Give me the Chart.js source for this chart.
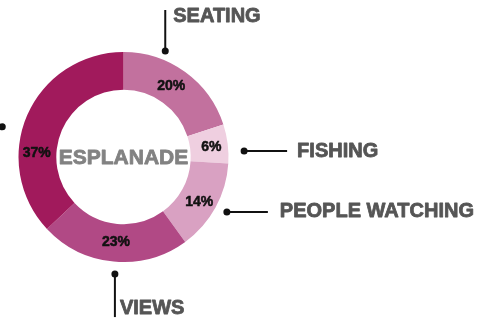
<!DOCTYPE html>
<html>
<head>
<meta charset="utf-8">
<script src="https://cdn.jsdelivr.net/npm/chart.js@4"></script>
<style>
  html, body { margin: 0; padding: 0; background: #fff; }
  #wrap { width: 488px; height: 325px; position: relative; }
</style>
</head>
<body>
<div id="wrap"><canvas id="chart"></canvas></div>
<script>
// ---------- data ----------
const CATEGORIES = ['SEATING', 'FISHING', 'PEOPLE WATCHING', 'VIEWS', ''];
const SHARES     = [20, 6, 14, 23, 37];
const PCT_LABELS = ['20%', '6%', '14%', '23%', '37%'];
const CENTER_TEXT = 'ESPLANADE';

// ---------- style ----------
const COLORS = ['#c2719e', '#efcfe0', '#d9a1c2', '#b14985', '#a11a5c'];
const FONT = '"Liberation Sans", Arial, sans-serif';

// where the % text sits: angle from top (deg, clockwise) and radius fraction of the ring
const PCT_POS = [
  { a: 34, r: 0.48 },
  { a: 83.5, r: 0.56 },
  { a: 121, r: 0.56 },
  { a: 185, r: 0.48 },
  { a: 272.5, r: 0.52 },
];

// callouts: dot angle/distance from centre, then a line and the text beside it
const CALLOUTS = [
  { a: 21.5, d: 1.085, line: [0, -41], text: [8, -35], align: 'left' },
  { a: 87.2, d: 1.15, line: [43, 0], text: [53, 0], align: 'left' },
  { a: 118, d: 1.115, line: [41, 0], text: [53, 0], align: 'left' },
  { a: 184.2, d: 1.118, line: [0, 43], text: [5, 34], align: 'left' },
  { a: 284, d: 1.19, line: [0, 0], text: [0, 0], align: 'left' },
];

const toXY = (cx, cy, deg, r) => {
  const t = deg * Math.PI / 180;
  return [cx + Math.sin(t) * r, cy - Math.cos(t) * r];
};

// bold text with a hair of extra weight
function heavyText(ctx, txt, x, y, color, w) {
  ctx.fillStyle = color;
  ctx.strokeStyle = color;
  ctx.lineWidth = w;
  ctx.lineJoin = 'round';
  ctx.strokeText(txt, x, y);
  ctx.fillText(txt, x, y);
}

const labelsPlugin = {
  id: 'esplanadeLabels',
  afterDraw(chart) {
    const ctx = chart.ctx;
    const arc = chart.getDatasetMeta(0).data[0];
    const cx = arc.x, cy = arc.y;
    const outer = arc.outerRadius, inner = arc.innerRadius;
    ctx.save();

    // centre word
    ctx.font = `bold 21px ${FONT}`;
    ctx.textAlign = 'center';
    ctx.textBaseline = 'middle';
    heavyText(ctx, CENTER_TEXT, cx, cy + 1, '#828282', 0.8);

    // percentages
    ctx.font = `bold 14px ${FONT}`;
    PCT_LABELS.forEach((txt, i) => {
      const p = PCT_POS[i];
      const [x, y] = toXY(cx, cy, p.a, inner + (outer - inner) * p.r);
      heavyText(ctx, txt, x, y, '#111', 0.5);
    });

    // callouts
    CALLOUTS.forEach((c, i) => {
      const [x, y] = toXY(cx, cy, c.a, outer * c.d);
      ctx.fillStyle = '#111';
      ctx.beginPath();
      ctx.arc(x, y, 3.5, 0, Math.PI * 2);
      ctx.fill();
      if (c.line[0] || c.line[1]) {
        ctx.strokeStyle = '#111';
        ctx.lineWidth = 2;
        ctx.beginPath();
        ctx.moveTo(x, y);
        ctx.lineTo(x + c.line[0], y + c.line[1]);
        ctx.stroke();
      }
      if (CATEGORIES[i]) {
        ctx.font = `bold 20px ${FONT}`;
        ctx.textAlign = c.align;
        ctx.textBaseline = 'middle';
        heavyText(ctx, CATEGORIES[i], x + c.text[0], y + c.text[1], '#555', 0.8);
      }
    });
    ctx.restore();
  }
};

new Chart(document.getElementById('chart'), {
  type: 'doughnut',
  data: {
    labels: CATEGORIES,
    datasets: [{
      data: SHARES,
      backgroundColor: COLORS,
      borderWidth: 0,
    }]
  },
  options: {
    responsive: true,
    maintainAspectRatio: false,
    animation: false,
    cutout: '64%',
    layout: { padding: { left: 18.5, right: 259.5, top: 52, bottom: 63 } },
    plugins: {
      legend: { display: false },
      tooltip: { enabled: false },
    }
  },
  plugins: [labelsPlugin]
});
</script>
</body>
</html>
